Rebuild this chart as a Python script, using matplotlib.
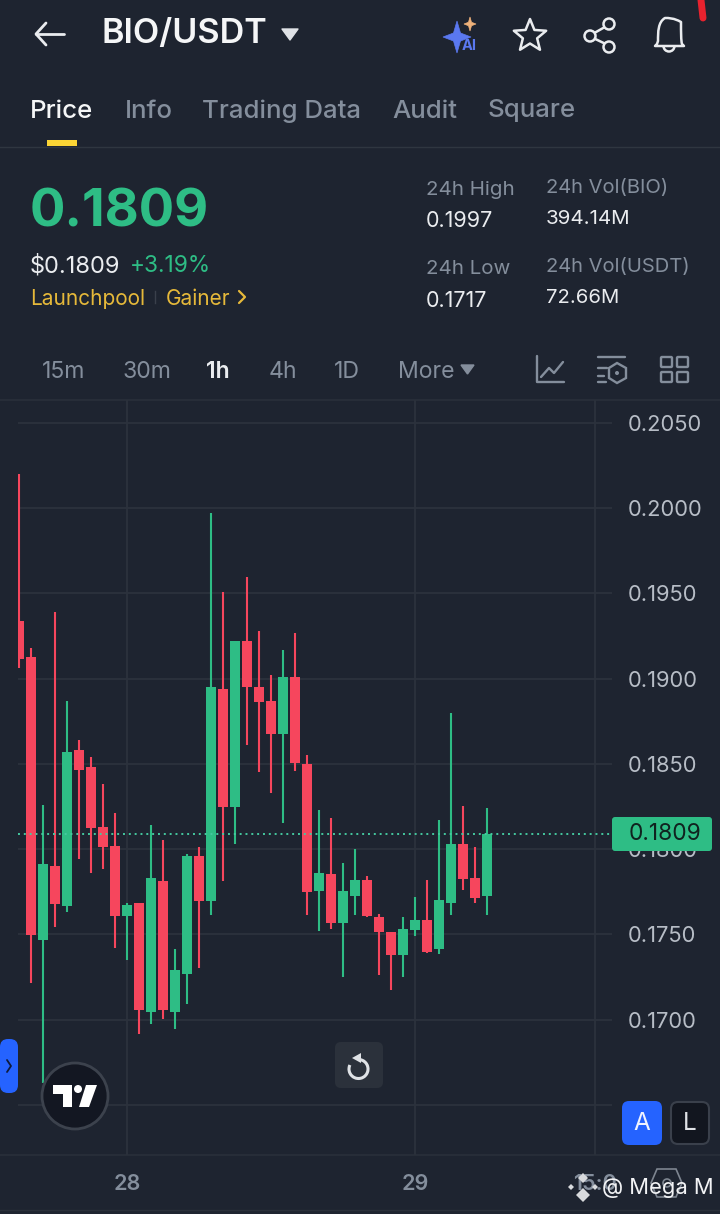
import numpy as np
import matplotlib
matplotlib.use("Agg")
import matplotlib.pyplot as plt
from matplotlib.patches import FancyBboxPatch, Circle, Polygon, Rectangle, Arc, PathPatch
from matplotlib.path import Path

# ---- data ----
opens = [.19338,.19127,.17468,.17901,.17667,.18581,.18482,.18130,.18019,.17608,
         .17685,.17046,.17813,.17046,.17268,.17960,.17696,.18939,.18247,.19220,
         .18951,.18869,.18675,.19009,.18499,.17755,.17854,.17567,.17726,.17819,
         .17602,.17514,.17380,.17526,.17585,.17415,.17685,.18030,.17831,.17726]
closes = [.19115,.17497,.17913,.17679,.18570,.18464,.18124,.18013,.17608,.17673,
          .17057,.17831,.17057,.17292,.17960,.17696,.18951,.18247,.19220,.18951,
          .18863,.18675,.19009,.18505,.17749,.17860,.17567,.17755,.17819,.17608,
          .17514,.17380,.17532,.17585,.17397,.17702,.18030,.17825,.17714,.18089]
highs = [.20199,.19179,.18259,.19390,.18869,.18640,.18540,.18382,.18212,.17685,
         .17685,.18142,.18054,.17415,.17972,.18013,.19971,.19508,.19220,.19596,
         .19279,.19021,.19168,.19267,.18552,.18230,.18183,.17919,.18001,.17843,
         .17620,.17514,.17602,.17720,.17819,.18171,.18798,.18253,.18013,.18241]
lows = [.19062,.17216,.16629,.17544,.17632,.17942,.17860,.17884,.17421,.17350,
        .16917,.16975,.17004,.16946,.17092,.17303,.17614,.17813,.18030,.18611,
        .18452,.18329,.18153,.18458,.17614,.17520,.17532,.17251,.17614,.17602,
        .17262,.17175,.17251,.17491,.17391,.17386,.17614,.17761,.17685,.17614]
last_price = 0.1809
price_ticks = [0.2050,0.2000,0.1950,0.1900,0.1850,0.1800,0.1750,0.1700,0.1650]
price_labels = ['0.2050','0.2000','0.1950','0.1900','0.1850','0.1800','0.1750','0.1700','']
time_pos = [9,33,48]
time_labels = ['28','29','15:0']

BG='#1e2430'; GREEN='#2ebd85'; RED='#f6465d'; GRID='#2c323d'
TXT='#eaecef'; MUTED='#848e9c'; GOLD='#e6b93a'; BLUE='#2563ff'
plt.rcParams['font.family']=['Inter','DejaVu Sans']

W,H=720,1214
fig=plt.figure(figsize=(W/100,H/100),dpi=100,facecolor=BG)

# ---- candle chart ----
L,R,T,B=18,612,400,1155
ax=fig.add_axes([L/W,1-B/H,(R-L)/W,(B-T)/H],facecolor=BG)
ax.set_xlim(-0.0833,49.417)
ax.set_ylim(0.16207,0.20633)
for s in ax.spines.values(): s.set_visible(False)
ax.set_yticks(price_ticks); ax.set_yticklabels(price_labels)
ax.yaxis.tick_right()
ax.set_xticks(time_pos); ax.set_xticklabels(time_labels)
ax.tick_params(axis='y',length=0,pad=11.5,labelsize=15.8,labelcolor='#b7bdc6')
ax.tick_params(axis='x',length=0,pad=13.5,labelsize=15.5,labelcolor='#848e9c')
for t in ax.get_xticklabels(): t.set_fontweight('semibold')
ax.grid(True,color=GRID,lw=1.3,zorder=0)
ax.set_axisbelow(True)
idx=np.arange(len(opens))
o,c,h,l=map(np.array,(opens,closes,highs,lows))
cols=[GREEN if a>b else RED for a,b in zip(c,o)]
ax.vlines(idx,l,h,colors=cols,lw=1.5,zorder=2)
ax.bar(idx,np.abs(c-o),bottom=np.minimum(o,c),width=10/12,color=cols,lw=0,zorder=3)
ax.axhline(last_price,color='#45c9a0',lw=1.4,ls=(0,(1,2)),zorder=4)

# ---- overlay in pixel space ----
ui=fig.add_axes([0,0,1,1],facecolor='none')
ui.set_xlim(0,W); ui.set_ylim(H,0); ui.axis('off')
def tx(x,y,s,size,color=TXT,weight='normal',ha='left',va='center',**k):
    return ui.text(x,y+2,s,fontsize=size,color=color,fontweight=weight,ha=ha,va=va,**k)
def ln(xs,ys,color=TXT,lw=1.8,**k):
    ui.plot(xs,ys,color=color,lw=lw,solid_capstyle='round',solid_joinstyle='round',**k)
def box(x,y,w,h,r,fc,ec='none',lw=0,z=5):
    p=FancyBboxPatch((x+r,y+r),w-2*r,h-2*r,boxstyle=f'round,pad={r}',fc=fc,ec=ec,lw=lw,zorder=z,mutation_aspect=1)
    ui.add_patch(p)

# header
ln([36,64],[34,34],lw=2); ln([46,36,46],[23,34,45],lw=2)
tx(102,32,'BIO/USDT',24.6,weight='semibold',color='#f5f6f7')
ui.add_patch(Polygon([[282,29],[298,29],[290,40]],closed=True,fc='#dfe2e6',ec='#dfe2e6',lw=1,joinstyle='round'))
def star4(cx,cy,rx,ry,col):
    pts=[[cx,cy-ry],[cx+rx*.25,cy-ry*.25],[cx+rx,cy],[cx+rx*.25,cy+ry*.25],[cx,cy+ry],[cx-rx*.25,cy+ry*.25],[cx-rx,cy],[cx-rx*.25,cy-ry*.25]]
    ui.add_patch(Polygon(pts,closed=True,fc=col,ec=col,lw=.5))
star4(457,37,14,16,'#5a78f0'); star4(470,24,6,7,'#f0b27a')
tx(462,44,'AI',10.5,color='#5a78f0',weight='bold')
a=np.deg2rad(np.arange(10)*36-90); rr=np.where(np.arange(10)%2==0,17,7.5)
ui.add_patch(Polygon(np.c_[530+rr*np.cos(a),36+rr*np.sin(a)],closed=True,fc='none',ec=TXT,lw=1.8,joinstyle='round'))
ln([589,612],[36,23],lw=1.8); ln([589,612],[36,47],lw=1.8)
for cx,cy,r in [(590,36,5.5),(609,24,5.5),(609,47,5.5)]:
    ui.add_patch(Circle((cx,cy),r,fc=BG,ec=TXT,lw=1.8,zorder=3))
bell=Path([(655,46),(657,44),(658,41),(658,32),(658,22),(665,18),(669,18),(674,18),(681,22),(681,32),(681,41),(682,44),(684,46),(655,46)],
          [1,2,2,4,4,4,4,4,4,4,2,2,2,79])
ui.add_patch(PathPatch(bell,fc='none',ec=TXT,lw=1.8,joinstyle='round'))
ui.add_patch(Arc((669,46),11,11,theta1=0,theta2=180,ec=TXT,lw=1.8))
ln([701,703],[0,18],color='#e8222e',lw=5)

# tabs
for x,s,col,w in [(30,'Price','#f5f6f7','medium'),(125,'Info',MUTED,'medium'),(202,'Trading Data',MUTED,'medium'),(392,'Audit',MUTED,'medium'),(488,'Square',MUTED,'medium')]:
    tx(x,109,s,18.6,color=col,weight=w)
ui.add_patch(Rectangle((47,140),30,6,fc='#fcd535',ec='none',zorder=4))
ui.plot([0,720],[147,147],color='#2f3640',lw=1)

# price block
tx(30,211,'0.1809',37.8,color=GREEN,weight='bold')
tx(30,264,'$0.1809',17,color=TXT)
tx(130,264,'+3.19%',16.4,color=GREEN)
tx(30,297,'Launchpool',15,color=GOLD)
ui.plot([155,155],[291,303],color='#3a404b',lw=1)
tx(166,297,'Gainer',15,color=GOLD)
ln([239,245,239],[291,297,303],color=GOLD,lw=1.6)

for x,y,s,col,sz in [(426,188,'24h High',MUTED,14.8),(426,219,'0.1997',TXT,15.5),(426,267,'24h Low',MUTED,14.8),(426,299,'0.1717',TXT,15.5),
                  (546,186,'24h Vol(BIO)',MUTED,14.5),(546,217,'394.14M',TXT,14.8),(546,265,'24h Vol(USDT)',MUTED,14.5),(546,296,'72.66M',TXT,14.6)]:
    tx(x,y,s,sz,color=col)

# timeframes
for x,s,col,w in [(42,'15m',MUTED,'normal'),(123,'30m',MUTED,'normal'),(206,'1h',TXT,'semibold'),(269,'4h',MUTED,'normal'),(334,'1D',MUTED,'normal'),(398,'More',MUTED,'normal')]:
    tx(x,370,s,16.6,color=col,weight=w)
ui.add_patch(Polygon([[461,365],[474,365],[467.5,374]],closed=True,fc=MUTED,ec=MUTED,lw=1))
ln([537,537,564],[356,382,382],color=MUTED,lw=1.7)
ln([541,549,554,563],[377,368,373,362],color=MUTED,lw=1.7)
for y,x0,x1 in [(357,598,625),(368,598,607),(376,598,604),(382,598,606)]:
    ln([x0,x1],[y,y],color=MUTED,lw=1.7)
ui.add_patch(Polygon([[617,363],[626,368],[626,378],[617,383],[609,378],[609,368]],closed=True,fc='none',ec=MUTED,lw=1.7))
ui.add_patch(Circle((617,373),2,fc=MUTED,ec='none'))
for x,y in [(661,357),(677,357),(661,372),(677,372)]:
    box(x,y,11,10,1,'none',ec=MUTED,lw=1.7)
ui.plot([0,720],[400,400],color='#2a303a',lw=1.2)
ui.plot([0,720],[1155,1155],color='#2a303a',lw=1.2)
ui.plot([0,720],[1210,1210],color='#2a303a',lw=1)

# last price tag
box(612,817,100,34,3,GREEN)
tx(665,832.5,'0.1809',16.4,color='#10231f',ha='center',zorder=6)

# left tab
box(0,1039,18,54,8,BLUE)
ln([7,11,7],[1060,1066,1072],color='#0f1a3a',lw=1.3,zorder=6)

# TradingView logo
ui.add_patch(Circle((75,1096),33,fc='#131722',ec='#3c424d',lw=2,zorder=5))
ui.add_patch(Polygon([[53,1085],[72,1085],[72,1107],[63,1107],[63,1094],[53,1094]],closed=True,fc='white',ec='none',zorder=6))
ui.add_patch(Circle((78,1089),4,fc='white',ec='none',zorder=6))
ui.add_patch(Polygon([[86,1085],[97,1085],[89,1107],[79,1107]],closed=True,fc='white',ec='none',zorder=6))

# reset button
box(335,1042,48,46,6,'#2b313b')
ui.add_patch(Arc((358.5,1069),19,19,theta1=-85,theta2=205,ec='#dfe2e6',lw=2.2,zorder=6))
ui.add_patch(Polygon([[352,1058],[361,1053],[361,1063]],closed=True,fc='#dfe2e6',ec='none',zorder=6))

# A / L
box(622,1101,40,44,7,BLUE)
tx(642,1121,'A',17.5,color='#f0f3ff',ha='center',zorder=6)
box(671,1102,38,42,7,'#12161f',ec='#3a404b',lw=1.5)
tx(690,1121,'L',17.5,color='#dfe2e6',ha='center',zorder=6)

# watermark
for cx,cy,r in [(583,1178,5),(583,1195,7)]:
    ui.add_patch(Polygon([[cx,cy-r],[cx+r,cy],[cx,cy+r],[cx-r,cy]],closed=True,fc='#d8dadd',ec='none',zorder=6))
for cx,cy in [(571,1187),(595,1187)]:
    ui.add_patch(Polygon([[cx,cy-3],[cx+3,cy],[cx,cy+3],[cx-3,cy]],closed=True,fc='#d8dadd',ec='none',zorder=6))
ui.add_patch(Polygon([[657,1169],[676,1169],[682,1183],[676,1197],[657,1197],[651,1183]],closed=True,fc='none',ec='#7d8590',lw=1.2,zorder=4))
ui.add_patch(Circle((667,1183),4,fc='none',ec='#7d8590',lw=1.2,zorder=4))
tx(602,1186,'@ Mega M',15.8,color='#f2f3f5',zorder=7)

fig.savefig('out.png',dpi=100,facecolor=BG)
